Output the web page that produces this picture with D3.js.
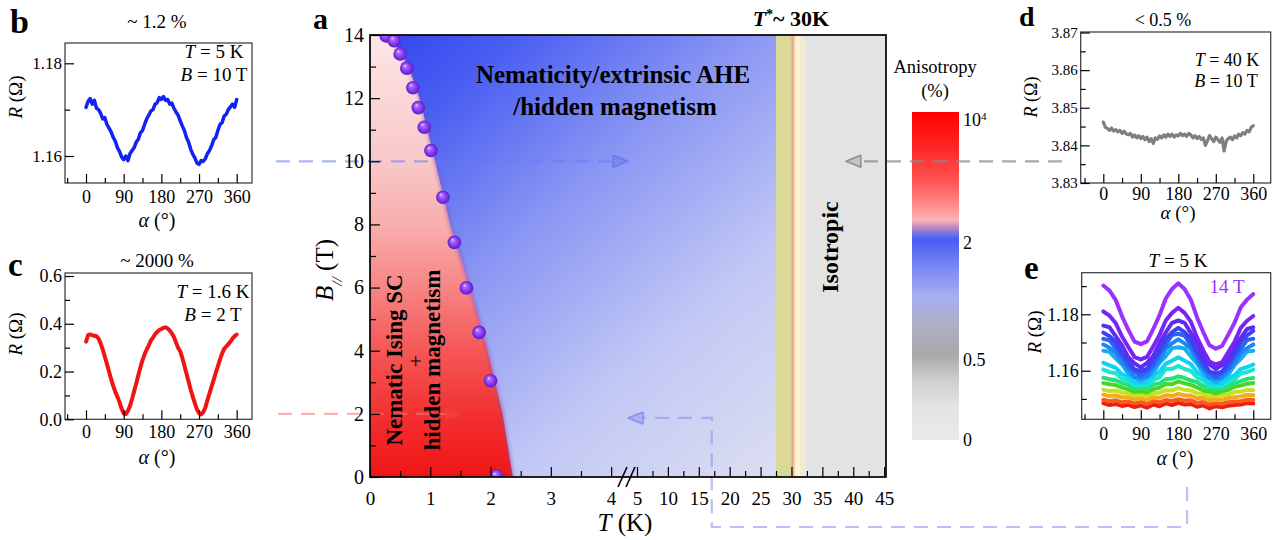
<!DOCTYPE html>
<html>
<head>
<meta charset="utf-8">
<script src="https://cdn.jsdelivr.net/npm/d3@7"></script>
<style>
  body { margin: 0; background: #fff; }
  svg { display: block; font-family: "Liberation Serif", "Times New Roman", serif; }
  svg text { font-family: "Liberation Serif", "Times New Roman", serif; }
</style>
</head>
<body>
<svg id="fig" width="1281" height="540"></svg>
<script>
// ---------- data : panel a (phase diagram) ----------
const dotT = [0.27, 0.40, 0.50, 0.61, 0.71, 0.80, 0.90, 1.01, 1.21, 1.40, 1.60, 1.81, 2.00, 2.10];
const dotB = [13.97, 13.82, 13.40, 12.95, 12.33, 11.70, 11.08, 10.34, 8.86, 7.43, 5.99, 4.58, 3.05, 0.03];
const boundT = [0.33, 0.64, 0.82, 1.08, 1.33, 1.66, 1.95, 2.20, 2.37];
const boundB = [14, 13, 12, 10, 8, 6, 4, 2, 0];
const bandT = [27.5, 32.35];           // T* ~ 30 K crossover band
const tMax = 45.3;
const xMajor = [0, 1, 2, 3, 4, 5, 10, 15, 20, 25, 30, 35, 40, 45];
const xMinor = [0.5, 1.5, 2.5, 3.5, 7.5, 12.5, 17.5, 22.5, 27.5, 32.5, 37.5, 42.5];
const yMajor = [0, 2, 4, 6, 8, 10, 12, 14];
const yMinor = [1, 3, 5, 7, 9, 11, 13];
const cbValues = [0, 0.5, 2, 10000];   // colour bar labels (%)

// ---------- data : angle sweeps ----------
const alpha5 = d3.range(0, 361, 5);
const alpha15 = d3.range(0, 361, 15);
const alphaMajor = [0, 90, 180, 270, 360];
const alphaMinor = [-45, 45, 135, 225, 315];

const bR = [1.1705,1.1718,1.1724,1.1712,1.1720,1.1703,1.1700,1.1692,1.1680,1.1683,
  1.1668,1.1660,1.1652,1.1640,1.1632,1.1618,1.1610,1.1598,1.1592,1.1600,
  1.1590,1.1605,1.1612,1.1618,1.1630,1.1636,1.1650,1.1655,1.1668,1.1680,
  1.1688,1.1697,1.1700,1.1712,1.1715,1.1726,1.1722,1.1728,1.1720,1.1722,
  1.1712,1.1714,1.1703,1.1695,1.1688,1.1676,1.1665,1.1655,1.1640,1.1630,
  1.1615,1.1604,1.1596,1.1585,1.1582,1.1590,1.1588,1.1594,1.1605,1.1612,
  1.1622,1.1635,1.1640,1.1655,1.1668,1.1672,1.1686,1.1690,1.1700,1.1706,
  1.1712,1.1705,1.1722];

const cR = [0.325,0.352,0.355,0.352,0.350,0.348,0.338,0.318,0.292,0.262,
  0.232,0.200,0.168,0.140,0.115,0.095,0.072,0.045,0.025,0.022,
  0.035,0.055,0.085,0.118,0.150,0.185,0.218,0.248,0.272,0.292,
  0.310,0.330,0.342,0.356,0.366,0.374,0.378,0.383,0.385,0.380,
  0.372,0.360,0.345,0.322,0.300,0.285,0.258,0.225,0.192,0.158,
  0.125,0.095,0.068,0.042,0.025,0.020,0.030,0.048,0.080,0.108,
  0.138,0.165,0.195,0.222,0.250,0.275,0.295,0.305,0.315,0.325,
  0.338,0.348,0.355];

const dR = [3.8462,3.8448,3.8445,3.8440,3.8446,3.8438,3.8442,3.8436,3.8440,3.8432,
  3.8438,3.8430,3.8428,3.8432,3.8422,3.8428,3.8420,3.8426,3.8418,3.8424,
  3.8415,3.8422,3.8410,3.8418,3.8405,3.8420,3.8416,3.8425,3.8420,3.8428,
  3.8422,3.8430,3.8424,3.8430,3.8422,3.8428,3.8425,3.8432,3.8426,3.8430,
  3.8424,3.8432,3.8428,3.8420,3.8426,3.8418,3.8424,3.8416,3.8420,3.8400,
  3.8412,3.8426,3.8418,3.8410,3.8422,3.8415,3.8408,3.8420,3.8385,3.8412,
  3.8418,3.8422,3.8415,3.8425,3.8420,3.8430,3.8426,3.8434,3.8430,3.8440,
  3.8436,3.8448,3.8452];

// panel e : T = 5 K, field from 14 T (top) down to 0 T (bottom)
const eField = [14, 13, 12, 11, 10, 9, 8, 7, 6, 5, 4, 3, 2, 1, 0];
const eR = [
  [1.1902,1.1884,1.1850,1.1793,1.1745,1.1703,1.1694,1.1704,1.1748,1.1797,1.1856,1.1890,1.1910,1.1890,1.1852,1.1789,1.1736,1.1690,1.1678,1.1688,1.1728,1.1770,1.1825,1.1852,1.1872],
  [1.1810,1.1795,1.1768,1.1721,1.1684,1.1648,1.1640,1.1649,1.1687,1.1727,1.1778,1.1805,1.1823,1.1805,1.1774,1.1718,1.1672,1.1632,1.1622,1.1630,1.1666,1.1703,1.1752,1.1777,1.1794],
  [1.1760,1.1754,1.1722,1.1690,1.1648,1.1626,1.1612,1.1628,1.1653,1.1699,1.1736,1.1770,1.1778,1.1770,1.1734,1.1697,1.1648,1.1622,1.1606,1.1620,1.1642,1.1685,1.1716,1.1748,1.1754],
  [1.1735,1.1722,1.1701,1.1662,1.1634,1.1604,1.1599,1.1606,1.1638,1.1671,1.1714,1.1737,1.1752,1.1737,1.1712,1.1666,1.1631,1.1597,1.1590,1.1597,1.1628,1.1661,1.1703,1.1725,1.1741],
  [1.1713,1.1708,1.1680,1.1653,1.1615,1.1597,1.1583,1.1597,1.1619,1.1662,1.1693,1.1726,1.1731,1.1724,1.1692,1.1659,1.1614,1.1592,1.1577,1.1591,1.1610,1.1650,1.1678,1.1709,1.1713],
  [1.1693,1.1681,1.1664,1.1629,1.1606,1.1578,1.1575,1.1580,1.1610,1.1638,1.1678,1.1697,1.1711,1.1697,1.1677,1.1636,1.1607,1.1576,1.1571,1.1576,1.1603,1.1627,1.1664,1.1680,1.1693],
  [1.1671,1.1667,1.1643,1.1622,1.1589,1.1575,1.1563,1.1576,1.1592,1.1628,1.1652,1.1680,1.1683,1.1679,1.1651,1.1626,1.1589,1.1573,1.1559,1.1572,1.1586,1.1620,1.1642,1.1668,1.1671],
  [1.1628,1.1619,1.1610,1.1588,1.1576,1.1557,1.1558,1.1559,1.1580,1.1597,1.1625,1.1635,1.1648,1.1635,1.1624,1.1595,1.1579,1.1556,1.1555,1.1556,1.1573,1.1584,1.1606,1.1613,1.1622],
  [1.1604,1.1595,1.1591,1.1571,1.1563,1.1547,1.1549,1.1548,1.1566,1.1577,1.1606,1.1606,1.1617,1.1606,1.1599,1.1576,1.1564,1.1545,1.1546,1.1544,1.1561,1.1570,1.1590,1.1595,1.1604],
  [1.1575,1.1570,1.1566,1.1556,1.1549,1.1536,1.1540,1.1538,1.1551,1.1555,1.1570,1.1572,1.1580,1.1574,1.1566,1.1559,1.1545,1.1537,1.1532,1.1539,1.1547,1.1556,1.1563,1.1571,1.1574],
  [1.1556,1.1552,1.1549,1.1540,1.1534,1.1524,1.1527,1.1523,1.1535,1.1540,1.1553,1.1552,1.1562,1.1555,1.1550,1.1541,1.1530,1.1525,1.1520,1.1526,1.1532,1.1543,1.1547,1.1554,1.1556],
  [1.1532,1.1528,1.1530,1.1522,1.1520,1.1512,1.1516,1.1510,1.1521,1.1522,1.1531,1.1530,1.1538,1.1532,1.1530,1.1520,1.1518,1.1509,1.1510,1.1513,1.1516,1.1524,1.1526,1.1532,1.1531],
  [1.1515,1.1510,1.1512,1.1505,1.1506,1.1498,1.1502,1.1497,1.1506,1.1504,1.1513,1.1510,1.1518,1.1512,1.1512,1.1503,1.1504,1.1495,1.1499,1.1497,1.1503,1.1506,1.1509,1.1514,1.1513],
  [1.1497,1.1492,1.1495,1.1488,1.1491,1.1484,1.1489,1.1482,1.1492,1.1488,1.1496,1.1493,1.1499,1.1494,1.1495,1.1486,1.1489,1.1480,1.1485,1.1483,1.1488,1.1491,1.1492,1.1497,1.1496],
  [1.1485,1.1478,1.1482,1.1475,1.1479,1.1471,1.1477,1.1469,1.1480,1.1474,1.1484,1.1478,1.1486,1.1480,1.1482,1.1472,1.1477,1.1466,1.1474,1.1470,1.1476,1.1478,1.1480,1.1485,1.1484]
];
const eColors = ['#9a32ff','#7b22f4','#5b2cf2','#3c42f4','#2a62f2','#1e86f2','#18aef4','#10d2f2',
  '#1ce6cc','#24e07a','#46d62a','#c6e21e','#f6a820','#f45c1e','#f01e12'];

// ---------- helpers ----------
const svg = d3.select('#fig');
const defs = svg.append('defs');
const FONT = 'Liberation Serif, Times New Roman, serif';

function linGrad(id, attrs, stops) {
  const g = defs.append('linearGradient').attr('id', id);
  Object.entries(attrs).forEach(([k, v]) => g.attr(k, v));
  stops.forEach(([o, c]) => g.append('stop').attr('offset', o).attr('stop-color', c));
}

function rich(sel, parts) {
  parts.forEach(([s, f = '']) => {
    const t = sel.append('tspan').text(s);
    if (f.includes('i')) t.attr('font-style', 'italic');
    if (f.includes('^')) t.attr('baseline-shift', 'super').attr('font-size', '62%');
    if (f.includes('_')) t.attr('baseline-shift', 'sub').attr('font-size', '62%');
  });
  return sel;
}

function label(x, y, fs, parts, opt = {}) {
  const t = svg.append('text').attr('x', x).attr('y', y).attr('font-size', fs)
    .attr('font-family', FONT)
    .attr('text-anchor', opt.anchor || 'middle').attr('fill', opt.fill || '#000');
  if (opt.bold) t.attr('font-weight', 'bold');
  if (opt.rot) t.attr('x', 0).attr('y', 0).attr('transform', `translate(${x},${y}) rotate(-90)`);
  return rich(t, typeof parts === 'string' ? [[parts]] : parts);
}

function styleAxis(g, fs) {
  g.attr('font-family', FONT).attr('font-size', fs);
  g.select('.domain').remove();
  g.selectAll('line').attr('stroke', '#000').attr('stroke-width', 1.2);
  g.selectAll('text').attr('fill', '#000').attr('font-family', FONT);
}

function arrowHead(x, y, dir, fill, stroke) {
  const b = x - dir * 15;
  svg.append('path').attr('d', `M${x},${y}L${b},${y - 6}L${b},${y + 6}Z`)
    .attr('fill', fill).attr('stroke', stroke).attr('stroke-width', 1.5).attr('stroke-linejoin', 'round');
}

function dashed(points, color, op) {
  svg.append('path').attr('d', d3.line()(points)).attr('fill', 'none')
    .attr('stroke', color).attr('stroke-opacity', op).attr('stroke-width', 2.2)
    .attr('stroke-dasharray', '14 9');
}

// ---------- panel a ----------
const xT = d3.scaleLinear().domain([0, 4.28, 5, tMax]).range([370, 628, 637, 886]);
const yB = d3.scaleLinear().domain([0, 14]).range([477, 35]);
const pL = xT(0), pR = xT(tMax), pT = yB(14), pB = yB(0);

linGrad('blueG', { gradientUnits: 'userSpaceOnUse', x1: xT(0.4), y1: pT, x2: xT(bandT[0]), y2: pB },
  [[0, '#3548f0'], [0.14, '#4a5ef2'], [0.4, '#8a96f3'], [0.7, '#c2c8f5'], [1, '#dcdef0']]);
linGrad('redG', { gradientUnits: 'userSpaceOnUse', x1: 0, y1: pT, x2: 0, y2: pB },
  [[0, '#fde6e6'], [0.3, '#f9c6c6'], [0.43, '#f8aeae'], [0.57, '#f78585'], [0.71, '#f55858'], [0.86, '#f33030'], [1, '#f01515']]);
linGrad('bandG', { gradientUnits: 'userSpaceOnUse', x1: xT(bandT[0]), y1: 0, x2: xT(bandT[1]), y2: 0 },
  [[0, '#d9d99a'], [0.45, '#dcda92'], [0.52, '#dcc090'], [0.56, '#e2a488'], [0.6, '#f0c8a8'],
   [0.66, '#fff0cc'], [0.76, '#fff6d4'], [0.82, '#f0ead0'], [1, '#ebe9d8']]);
linGrad('cbar', { x1: 0, y1: 0, x2: 0, y2: 1 },
  [[0, '#ff0000'], [0.12, '#ff2a2a'], [0.22, '#ff5a5a'], [0.3, '#ff9a9a'], [0.33, '#f8b4b4'], [0.355, '#b482c4'],
   [0.375, '#6470ec'], [0.39, '#4a5cf6'], [0.47, '#7886f4'], [0.56, '#a6aef2'], [0.64, '#aeb0c8'],
   [0.74, '#a9a9a9'], [0.82, '#cfcfcf'], [0.9, '#e4e4e4'], [1, '#e9e9e9']]);
const ball = defs.append('radialGradient').attr('id', 'ball').attr('fx', 0.35).attr('fy', 0.3);
[[0, '#f4e6ff'], [0.22, '#b070ff'], [0.6, '#8a3cf2'], [1, '#5a1cc8']]
  .forEach(([o, c]) => ball.append('stop').attr('offset', o).attr('stop-color', c));
defs.append('filter').attr('id', 'soft').append('feGaussianBlur').attr('stdDeviation', 1.6);
defs.append('clipPath').attr('id', 'clipA').append('rect')
  .attr('x', pL).attr('y', pT).attr('width', pR - pL).attr('height', pB - pT);

const ga = svg.append('g').attr('clip-path', 'url(#clipA)');
ga.append('rect').attr('x', pL).attr('y', pT).attr('width', xT(bandT[0]) - pL).attr('height', pB - pT)
  .attr('fill', 'url(#blueG)');
const boundary = boundT.map((t, i) => [t, boundB[i]]);
const lineTB = d3.line().x(d => xT(d[0])).y(d => yB(d[1]));
ga.append('path').attr('d', lineTB([[0, 0], [0, 14], ...boundary]) + 'Z').attr('fill', 'url(#redG)');
ga.append('path').attr('d', lineTB(boundary)).attr('fill', 'none').attr('stroke', '#9048b0')
  .attr('stroke-width', 4).attr('stroke-opacity', 0.4).attr('filter', 'url(#soft)');
ga.append('rect').attr('x', xT(bandT[0])).attr('y', pT).attr('width', xT(bandT[1]) - xT(bandT[0]))
  .attr('height', pB - pT).attr('fill', 'url(#bandG)');
ga.append('rect').attr('x', xT(bandT[1])).attr('y', pT).attr('width', pR - xT(bandT[1]))
  .attr('height', pB - pT).attr('fill', '#e3e3e3');

// region labels
label(613, 83, 25, 'Nematicity/extrinsic AHE', { bold: true });
label(615, 115, 25, '/hidden magnetism', { bold: true });
label(402, 360, 23, 'Nematic Ising SC', { bold: true, rot: true });
label(423, 361, 22, '+', { rot: true });
label(440, 360, 23, 'hidden magnetism', { bold: true, rot: true });
label(838, 247, 24, 'Isotropic', { bold: true, rot: true });

// colour bar
const cbY = d3.scaleLinear().domain(cbValues).range([440, 360, 243, 112]);
svg.append('rect').attr('x', 912).attr('y', cbY(10000)).attr('width', 47)
  .attr('height', cbY(0) - cbY(10000)).attr('fill', 'url(#cbar)');
cbValues.forEach(v => {
  const yy = v === 10000 ? cbY(v) + 14 : cbY(v) + 6;
  label(963, yy, 18, v === 10000 ? [['10'], ['4', '^']] : String(v), { anchor: 'start' });
});
label(935, 73, 18.5, 'Anisotropy');
label(935, 97, 18.5, '(%)');

// panels b-e
function smallPanel(o) {
  const g = svg.append('g');
  const x = d3.scaleLinear().domain([0, 360]).range(o.xr);
  const y = d3.scaleLinear().domain(o.yd).range(o.yr);
  const [L, T, R, B] = o.box;
  const ln = d3.line().x((d, i) => x(o.alpha[i])).y(d => y(d));
  o.series.forEach((vals, k) => {
    g.append('path').datum(vals).attr('d', ln).attr('fill', 'none')
      .attr('stroke', o.colors[k]).attr('stroke-width', o.sw)
      .attr('stroke-linejoin', 'round').attr('stroke-linecap', 'round');
  });
  g.append('rect').attr('x', L).attr('y', T).attr('width', R - L).attr('height', B - T)
    .attr('fill', 'none').attr('stroke', '#333').attr('stroke-width', 1.2);
  g.append('g').attr('transform', `translate(0,${B})`)
    .call(d3.axisBottom(x).tickValues(alphaMajor).tickSize(-9).tickPadding(o.xPad)).call(styleAxis, o.xfs);
  g.append('g').attr('transform', `translate(0,${B})`)
    .call(d3.axisBottom(x).tickValues(alphaMinor).tickSize(-5).tickFormat('')).call(styleAxis, o.xfs);
  g.append('g').attr('transform', `translate(${L},0)`)
    .call(d3.axisLeft(y).tickValues(o.yMajor).tickSize(-9).tickPadding(3).tickFormat(d3.format(o.fmt)))
    .call(styleAxis, o.yfs);
  g.append('g').attr('transform', `translate(${L},0)`)
    .call(d3.axisLeft(y).tickValues(o.yMinor).tickSize(-5).tickFormat('')).call(styleAxis, o.yfs);
  return { x, y };
}

smallPanel({ box: [65, 43, 252, 183], xr: [86, 236.7], yd: [1.16, 1.18], yr: [156, 63.3],
  yMajor: [1.16, 1.18], yMinor: [1.17], fmt: '.2f', alpha: alpha5, series: [bR], colors: ['#1222f0'],
  sw: 3.5, xPad: 7, xfs: 18, yfs: 17 });
smallPanel({ box: [65, 273, 252, 419.3], xr: [86, 236.7], yd: [0, 0.6], yr: [419.3, 276],
  yMajor: [0, 0.2, 0.4, 0.6], yMinor: [0.1, 0.3, 0.5], fmt: '.1f', alpha: alpha5, series: [cR], colors: ['#f01414'],
  sw: 4, xPad: 6, xfs: 18, yfs: 18 });
smallPanel({ box: [1080.7, 32, 1270.7, 183], xr: [1103.3, 1253.3], yd: [3.83, 3.87], yr: [183, 32.5],
  yMajor: [3.83, 3.84, 3.85, 3.86, 3.87], yMinor: [3.835, 3.845, 3.855, 3.865], fmt: '.2f',
  alpha: alpha5, series: [dR], colors: ['#7f7f7f'], sw: 3.2, xPad: 4, xfs: 18, yfs: 15 });
const pe = smallPanel({ box: [1081.7, 272.7, 1270.7, 419.3], xr: [1103.3, 1253.3], yd: [1.16, 1.18], yr: [370.7, 314.3],
  yMajor: [1.16, 1.18], yMinor: [1.15, 1.17, 1.19], fmt: '.2f', alpha: alpha15, series: eR.slice().reverse(),
  colors: eColors.slice().reverse(), sw: 4, xPad: 8, xfs: 18, yfs: 18 });

// panel texts
const alphaLab = [['α', 'i'], [' (°)']];
const rLab = [['R', 'i'], [' (Ω)']];
label(157, 28, 19, '~ 1.2 %');
label(214, 58, 19, [['T', 'i'], [' = 5 K']]);
label(214, 81, 19, [['B', 'i'], [' = 10 T']]);
label(157, 227, 20, alphaLab);
label(22, 97, 19, rLab, { rot: true });

label(157, 267, 19, '~ 2000 %');
label(213, 298, 19, [['T', 'i'], [' = 1.6 K']]);
label(213, 321, 19, [['B', 'i'], [' = 2 T']]);
label(157, 464, 20, alphaLab);
label(22, 334, 19, rLab, { rot: true });

label(1163, 26, 18, '< 0.5 %');
label(1227, 66, 18, [['T', 'i'], [' = 40 K']]);
label(1226, 87, 18, [['B', 'i'], [' = 10 T']]);
label(1178, 219, 19, alphaLab);
label(1037, 97, 18, rLab, { rot: true });

label(1178, 267, 19, [['T', 'i'], [' = 5 K']]);
label(1227, 293, 19, `${eField[0]} T`, { fill: eColors[0] });
label(1175, 465, 20, alphaLab);
label(1041, 332, 19, rLab, { rot: true });

// panel letters
label(313, 29, 30, 'a', { bold: true, anchor: 'start' });
label(10, 33, 34, 'b', { bold: true, anchor: 'start' });
label(8, 276, 33, 'c', { bold: true, anchor: 'start' });
label(1019, 26, 28, 'd', { bold: true, anchor: 'start' });
label(1024, 279, 33, 'e', { bold: true, anchor: 'start' });

// dashed guides linking the side panels to panel a
dashed([[276, yB(10)], [xT(4.28) - 15, yB(10)]], '#6a78f0', 0.55);
arrowHead(xT(4.28), yB(10), 1, 'rgba(106,120,240,0.45)', 'rgba(90,104,236,0.6)');
dashed([[278, yB(2)], [xT(1.5) - 15, yB(2)]], '#f07a7a', 0.55);
arrowHead(xT(1.5), yB(2), 1, 'rgba(240,80,80,0.35)', 'rgba(230,70,70,0.5)');
dashed([[1062, yB(10)], [xT(38.8) + 15, yB(10)]], '#8a8a8a', 0.75);
arrowHead(xT(38.8), yB(10), -1, 'rgba(150,150,150,0.4)', 'rgba(120,120,120,0.75)');
dashed([[pe.x(201), 487], [pe.x(201), 527], [xT(17.1), 527], [xT(17.1), yB(1.87)], [xT(4.28) + 15, yB(1.87)]],
  '#8a94f2', 0.6);
arrowHead(xT(4.28), yB(1.87), -1, 'rgba(120,130,240,0.35)', 'rgba(100,110,236,0.6)');

// spheres on the boundary
ga.selectAll('circle').data(dotT.map((t, i) => [t, dotB[i]])).join('circle')
  .attr('cx', d => xT(d[0])).attr('cy', d => yB(d[1])).attr('r', 6.8).attr('fill', 'url(#ball)');

// axes of panel a
svg.append('g').attr('transform', `translate(0,${pB})`)
  .call(d3.axisBottom(xT).tickValues(xMajor).tickSize(-10).tickPadding(15)).call(styleAxis, 19);
svg.append('g').attr('transform', `translate(0,${pB})`)
  .call(d3.axisBottom(xT).tickValues(xMinor).tickSize(-6).tickFormat('')).call(styleAxis, 19);
svg.append('g').attr('transform', `translate(${pL},0)`)
  .call(d3.axisLeft(yB).tickValues(yMajor).tickSize(-10).tickPadding(6)).call(styleAxis, 20);
svg.append('g').attr('transform', `translate(${pL},0)`)
  .call(d3.axisLeft(yB).tickValues(yMinor).tickSize(-6).tickFormat('')).call(styleAxis, 20);
svg.append('rect').attr('x', pL).attr('y', pT).attr('width', pR - pL).attr('height', pB - pT)
  .attr('fill', 'none').attr('stroke', '#000').attr('stroke-width', 1.7);
// axis break marks
const xb = xT(4.28);
[[-10, -1], [-2, 7]].forEach(([a, b]) => {
  svg.append('line').attr('x1', xb + a).attr('y1', pB + 10).attr('x2', xb + b).attr('y2', pB - 10)
    .attr('stroke', '#000').attr('stroke-width', 1.6);
});

label(625, 531, 25, [['T', 'i'], [' (K)']]);
label(333, 270, 25, [['B', 'i'], ['//', 'i_'], [' (T)']], { rot: true });
label(791, 26, 22, [['T', 'i'], ['*', '^'], ['~ 30K']], { bold: true });
</script>
</body>
</html>
